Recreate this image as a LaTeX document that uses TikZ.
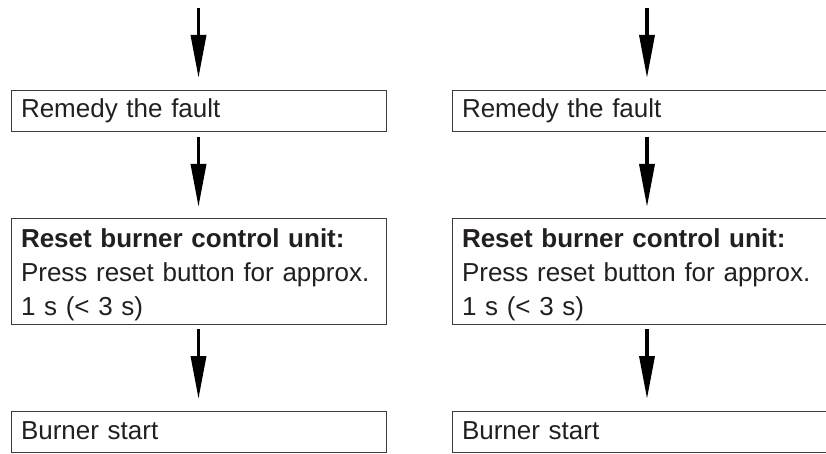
\documentclass[tikz,border=0pt]{standalone}
\usepackage{fontspec}
\setmainfont{Liberation Sans}
\usepackage{xcolor}
\usepackage{tikz}
\usetikzlibrary{arrows.meta, positioning}
\definecolor{txtgray}{HTML}{231F20}
\definecolor{linegray}{HTML}{3C3C3C}

\begin{document}
\begin{tikzpicture}[x=1pt, y=-1pt,
			stepbox/.style={draw=linegray, line width=1pt, anchor=north west, outer sep=0pt,
				inner xsep=10pt, inner ysep=0pt, align=left, text=txtgray,
				font=\fontsize{26}{34}\selectfont},
			leftbox/.style={stepbox, text width=355pt},
			rightbox/.style={stepbox, text width=370pt},
			oneline/.style={text height=27.3pt, text depth=13.7pt},
			flow/.style={-{Triangle[length=43pt,width=15pt]}, line width=3.5pt, black}]
			\useasboundingbox (0,0) rectangle (826,454);
			\node [leftbox, oneline] (faultL) at (11,90.7) {Remedy the fault};
			\node [leftbox] (resetL) at (11,219) {\noindent\rule{0pt}{28.3pt}\textbf{Reset burner control unit:}\\ \mbox{Press reset button for approx.}\\ 1 s (< 3 s)\rule[-9pt]{0pt}{9pt}};
			\node [leftbox, oneline] (startL) at (11,411.7) {Burner start};
			\node [rightbox, oneline] (faultR) at (452,90.7) {Remedy the fault};
			\node [rightbox] (resetR) at (452,219) {\noindent\rule{0pt}{28.3pt}\textbf{Reset burner control unit:}\\ \mbox{Press reset button for approx.}\\ 1 s (< 3 s)\rule[-9pt]{0pt}{9pt}};
			\node [rightbox, oneline] (startR) at (452,411.7) {Burner start};
			\coordinate (inL) at (198.5,8);
			\coordinate (inR) at (647,8);
			\draw [flow, shorten >=12.7pt] (inL) -- (faultL.north);
			\draw [flow, shorten <=5pt, shorten >=12pt] (faultL.south) -- (resetL.north);
			\draw [flow, shorten <=5pt, shorten >=12.7pt] (resetL.south) -- (startL.north);
			\draw [flow, shorten >=12.7pt] (inR) -- (faultR.north);
			\draw [flow, shorten <=5pt, shorten >=12pt] (faultR.south) -- (resetR.north);
			\draw [flow, shorten <=5pt, shorten >=12.7pt] (resetR.south) -- (startR.north);
		\end{tikzpicture}
\end{document}
